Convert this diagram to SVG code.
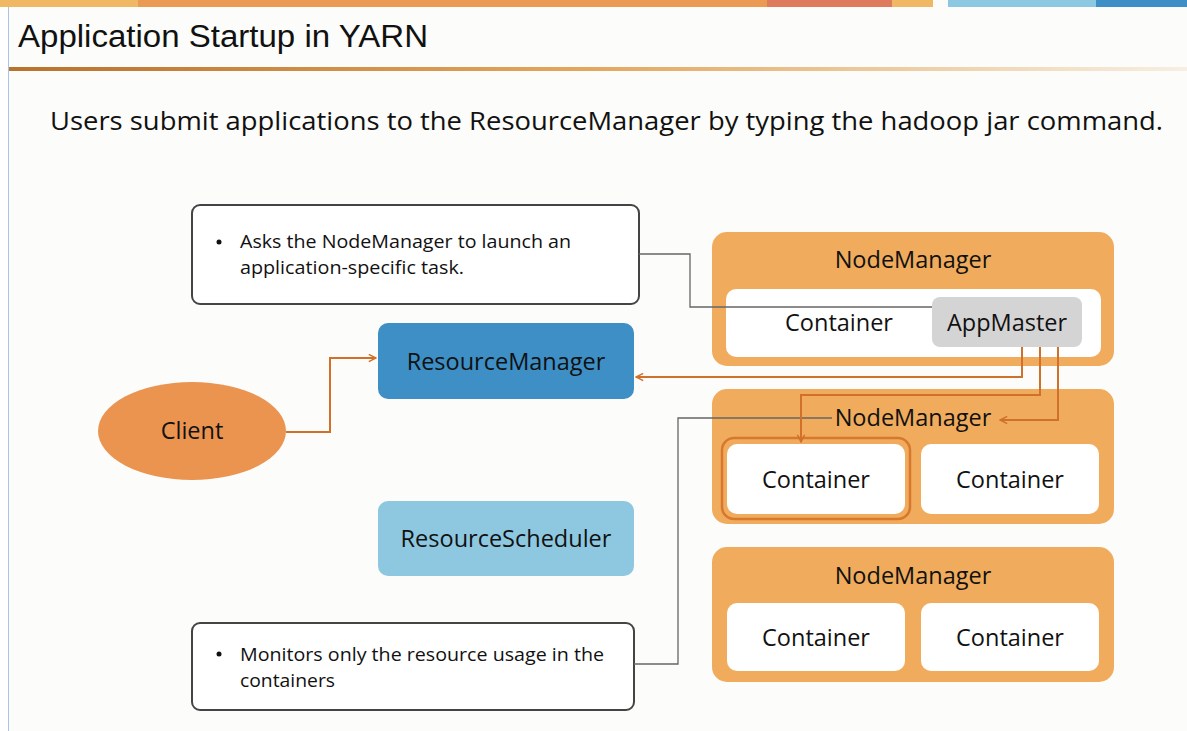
<svg xmlns="http://www.w3.org/2000/svg" width="1187" height="731" viewBox="0 0 1187 731">
<defs>
<linearGradient id="ul" x1="0" x2="1" y1="0" y2="0">
<stop offset="0" stop-color="#b8722e"/>
<stop offset="0.5" stop-color="#e3a860"/>
<stop offset="1" stop-color="#f7efe2"/>
</linearGradient>
<marker id="ah" viewBox="0 0 10 10" refX="9" refY="5" markerWidth="9" markerHeight="9" markerUnits="userSpaceOnUse" orient="auto">
<path d="M1,1 L9,5 L1,9" fill="none" stroke="#d0702a" stroke-width="1.6"/>
</marker>
<style>
text{font-family:"Open Sans","Noto Sans","Liberation Sans",sans-serif;fill:#111}
.nm{fill:#f0ac5c}
.ct{fill:#ffffff}
.lbl{font-size:23.5px;text-anchor:middle}
.note{fill:#ffffff;stroke:#444;stroke-width:2}
.nt{font-size:19px}
.oc{fill:none;stroke:#d0702a;stroke-width:2}
.gc{fill:none;stroke:#666;stroke-width:1.3}
</style>
</defs>
<rect width="1187" height="731" fill="#fcfcfa"/>
<rect x="0" y="0" width="8" height="731" fill="#ffffff"/>
<line x1="8.5" y1="0" x2="8.5" y2="731" stroke="#a9c3e8" stroke-width="1"/>
<g id="topbar">
<rect x="0" y="0" width="138" height="7" fill="#f0b865"/>
<rect x="138" y="0" width="629" height="7" fill="#ea9a52"/>
<rect x="767" y="0" width="125" height="7" fill="#df7a5c"/>
<rect x="892" y="0" width="41" height="7" fill="#f0b865"/>
<rect x="948" y="0" width="148" height="7" fill="#8cc8e2"/>
<rect x="1096" y="0" width="91" height="7" fill="#3d8fc6"/>
</g>
<text x="18" y="47" style="font-family:'Liberation Sans',sans-serif;font-size:31px" textLength="410" lengthAdjust="spacingAndGlyphs">Application Startup in YARN</text>
<rect x="9" y="67" width="1178" height="4" fill="url(#ul)"/>
<text x="50" y="130" style="font-size:25px" textLength="1113" lengthAdjust="spacingAndGlyphs">Users submit applications to the ResourceManager by typing the hadoop jar command.</text>

<g id="note1">
<rect class="note" x="192" y="205" width="447" height="99" rx="8"/>
<circle cx="219" cy="242" r="2.5" fill="#111"/>
<text class="nt" x="240" y="248" textLength="331" lengthAdjust="spacingAndGlyphs">Asks the NodeManager to launch an</text>
<text class="nt" x="240" y="274" textLength="224" lengthAdjust="spacingAndGlyphs">application-specific task.</text>
</g>

<g id="note2">
<rect class="note" x="192" y="623" width="442" height="87" rx="8"/>
<circle cx="219" cy="654" r="2.5" fill="#111"/>
<text class="nt" x="240" y="661" textLength="364" lengthAdjust="spacingAndGlyphs">Monitors only the resource usage in the</text>
<text class="nt" x="240" y="687" textLength="95" lengthAdjust="spacingAndGlyphs">containers</text>
</g>

<g id="client">
<ellipse cx="192" cy="431" rx="94" ry="49" fill="#eb9450"/>
<text class="lbl" x="192" y="439">Client</text>
</g>

<g id="resourcemanager">
<rect x="378" y="323" width="256" height="76" rx="10" fill="#3d8fc6"/>
<text class="lbl" x="506" y="370">ResourceManager</text>
</g>

<g id="resourcescheduler">
<rect x="378" y="501" width="256" height="75" rx="10" fill="#8ec8e0"/>
<text class="lbl" x="506" y="547">ResourceScheduler</text>
</g>

<g id="nodemanager1">
<rect class="nm" x="712" y="232" width="402" height="134" rx="15"/>
<text class="lbl" x="913" y="268">NodeManager</text>
<rect class="ct" x="726" y="289" width="375" height="68" rx="10"/>
<text class="lbl" x="839" y="331">Container</text>
<g id="appmaster">
<rect x="932" y="297" width="150" height="50" rx="8" fill="#d4d4d4"/>
<text class="lbl" x="1007" y="331">AppMaster</text>
</g>
</g>

<g id="nodemanager2">
<rect class="nm" x="712" y="389" width="402" height="135" rx="15"/>
<text class="lbl" x="913" y="426">NodeManager</text>
<rect x="722" y="438" width="188" height="81" rx="12" fill="none" stroke="#d8782e" stroke-width="2.5"/>
<rect class="ct" x="727" y="444" width="178" height="70" rx="10"/>
<text class="lbl" x="816" y="488">Container</text>
<rect class="ct" x="921" y="444" width="178" height="70" rx="10"/>
<text class="lbl" x="1010" y="488">Container</text>
</g>

<g id="nodemanager3">
<rect class="nm" x="712" y="547" width="402" height="135" rx="15"/>
<text class="lbl" x="913" y="584">NodeManager</text>
<rect class="ct" x="727" y="603" width="178" height="68" rx="10"/>
<text class="lbl" x="816" y="646">Container</text>
<rect class="ct" x="921" y="603" width="178" height="68" rx="10"/>
<text class="lbl" x="1010" y="646">Container</text>
</g>

<g id="connectors">
<polyline class="gc" points="639,254 690,254 690,307 932,307"/>
<polyline class="gc" points="634,664 678,664 678,418 832,418"/>
<polyline class="oc" points="286,432 330,432 330,358 376,358" marker-end="url(#ah)"/>
<polyline class="oc" points="1022,347 1022,377 636,377" marker-end="url(#ah)"/>
<polyline class="oc" points="1040,347 1040,395 801,395 801,442" marker-end="url(#ah)"/>
<polyline class="oc" points="1058,347 1058,420 1000,420" marker-end="url(#ah)"/>
</g>
</svg>
